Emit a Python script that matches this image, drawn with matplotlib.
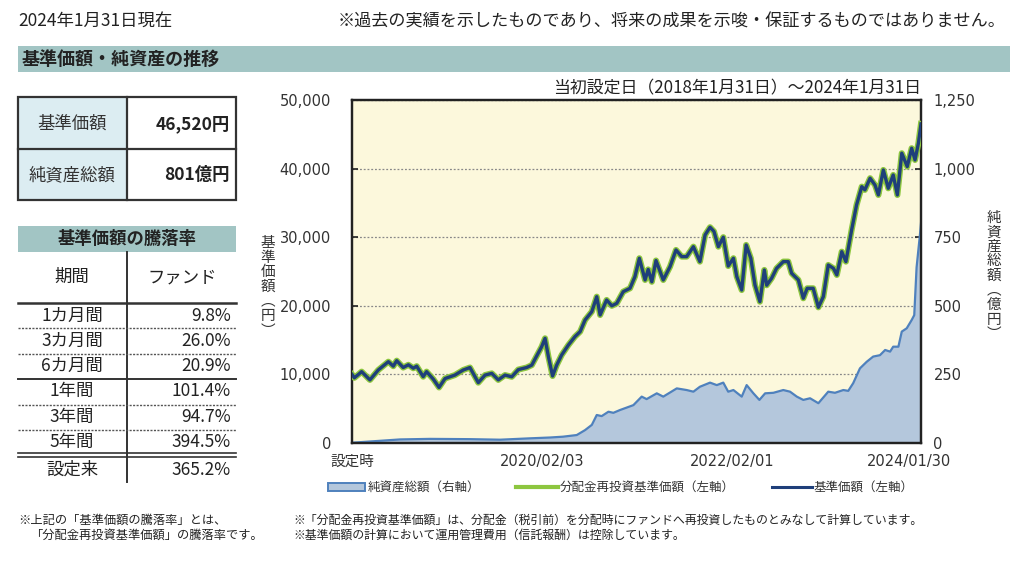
import matplotlib.pyplot as plt
import matplotlib.transforms as mtransforms
from matplotlib.patches import Rectangle
import pandas as pd

plt.rcParams['font.family'] = ['Noto Sans CJK JP', 'DejaVu Sans']

# 基準価額（円）: 画像から読み取った値
nav_dates = [
    '2018-01-31', '2018-02-09', '2018-02-25', '2018-03-09', '2018-04-10', '2018-05-12',
    '2018-06-20', '2018-07-09', '2018-07-22', '2018-08-16', '2018-09-05', '2018-09-24',
    '2018-10-07', '2018-11-01', '2018-11-14', '2018-12-10', '2019-01-01', '2019-01-24',
    '2019-03-03', '2019-04-04', '2019-04-30', '2019-06-01', '2019-06-27', '2019-07-23',
    '2019-08-17', '2019-09-12', '2019-10-08', '2019-11-02', '2019-12-04', '2019-12-24',
    '2020-01-12', '2020-01-31', '2020-02-13', '2020-02-26', '2020-03-13', '2020-03-29',
    '2020-04-17', '2020-05-13', '2020-06-07', '2020-06-27', '2020-07-16', '2020-08-11',
    '2020-08-30', '2020-09-12', '2020-10-07', '2020-10-27', '2020-11-15', '2020-12-10',
    '2021-01-05', '2021-01-24', '2021-02-10', '2021-03-04', '2021-03-16', '2021-03-30',
    '2021-04-15', '2021-05-13', '2021-06-08', '2021-07-01', '2021-07-23', '2021-08-11',
    '2021-09-06', '2021-10-01', '2021-10-21', '2021-11-09', '2021-11-24', '2021-12-11',
    '2021-12-30', '2022-01-18', '2022-02-07', '2022-02-20', '2022-03-11', '2022-03-28',
    '2022-04-15', '2022-05-01', '2022-05-20', '2022-06-06', '2022-06-15', '2022-07-04',
    '2022-07-23', '2022-08-18', '2022-09-06', '2022-09-19', '2022-10-15', '2022-11-03',
    '2022-11-18', '2022-12-11', '2022-12-31', '2023-01-19', '2023-02-07', '2023-02-27',
    '2023-03-12', '2023-03-31', '2023-04-16', '2023-05-08', '2023-05-27', '2023-06-16',
    '2023-06-28', '2023-07-18', '2023-08-06', '2023-08-19', '2023-09-07', '2023-09-26',
    '2023-10-15', '2023-10-31', '2023-11-17', '2023-12-08', '2023-12-25', '2024-01-07',
    '2024-01-20', '2024-01-30',
]
nav_values = [
    10000, 9500, 10000, 10400, 9200, 10640,
    11850, 11200, 12000, 11000, 11400, 10900,
    11200, 9670, 10400, 9300, 8100, 9400,
    9900, 10640, 11000, 8800, 9900, 10150,
    9200, 9900, 9650, 10700, 11000, 11350,
    12700, 14040, 15260, 12580, 9770, 11370,
    12830, 14290, 15500, 16230, 17930, 19150,
    21330, 18660, 20850, 20000, 20360, 22060,
    22550, 24250, 26930, 23770, 25300, 23500,
    26600, 23770, 25700, 28140, 27170, 27170,
    28620, 26440, 30330, 31450, 30850, 28620,
    30000, 25800, 26930, 24250, 22300, 28870,
    26930, 23040, 20600, 25220, 23000, 24010,
    25460, 26440, 26440, 24740, 23770, 21100,
    22550, 22550, 19780, 21330, 25950, 25460,
    24500, 27890, 26440, 31060, 34700, 37370,
    36900, 38600, 37600, 36160, 39800, 37130,
    39070, 36160, 42240, 40290, 42970, 41260,
    43700, 46520,
]

# 純資産総額（億円）
aum_dates = [
    '2018-01-31', '2018-05-19', '2018-08-04', '2018-11-27', '2019-04-30', '2019-08-24',
    '2019-12-17', '2020-03-03', '2020-04-22', '2020-06-14', '2020-07-16', '2020-08-11',
    '2020-08-30', '2020-09-18', '2020-10-14', '2020-11-02', '2020-11-27', '2021-01-18',
    '2021-02-19', '2021-03-10', '2021-04-18', '2021-05-13', '2021-07-04', '2021-08-11',
    '2021-09-06', '2021-10-01', '2021-11-09', '2021-12-05', '2021-12-30', '2022-01-18',
    '2022-02-07', '2022-03-11', '2022-03-30', '2022-04-25', '2022-05-18', '2022-06-09',
    '2022-07-11', '2022-08-18', '2022-09-13', '2022-10-09', '2022-11-03', '2022-11-29',
    '2022-12-31', '2023-02-07', '2023-03-05', '2023-04-06', '2023-04-25', '2023-05-14',
    '2023-06-09', '2023-07-05', '2023-07-30', '2023-08-25', '2023-09-14', '2023-10-03',
    '2023-10-15', '2023-11-04', '2023-11-17', '2023-12-06', '2023-12-25', '2024-01-04',
    '2024-01-13', '2024-01-26', '2024-01-30',
]
aum_values = [
    1, 8, 13, 15, 14, 12,
    17, 20, 23, 29, 47, 66,
    102, 98, 114, 110, 120, 138,
    169, 160, 181, 169, 199, 193,
    187, 205, 220, 211, 220, 187,
    193, 169, 211, 181, 157, 181,
    183, 193, 187, 169, 157, 163,
    145, 187, 183, 193, 190, 218,
    272, 296, 315, 320, 339, 333,
    351, 351, 406, 418, 448, 466,
    640, 760, 801,
]

# 騰落率の表
periods = ['1カ月間', '3カ月間', '6カ月間', '1年間', '3年間', '5年間', '設定来']
returns = [9.8, 26.0, 20.9, 101.4, 94.7, 394.5, 365.2]

xtick_dates = ['2018-01-31', '2020-02-03', '2022-02-01', '2024-01-30']
xtick_labels = ['設定時', '2020/02/03', '2022/02/01', '2024/01/30']

nav_x = pd.to_datetime(nav_dates)
aum_x = pd.to_datetime(aum_dates)

teal = '#a2c5c4'
txt = '#222222'

fig = plt.figure(figsize=(10.24, 5.76), dpi=100)

# 背景用（ピクセル座標）
bg = fig.add_axes([0, 0, 1, 1])
bg.set_xlim(0, 1024)
bg.set_ylim(576, 0)
bg.axis('off')

bg.text(18, 21, '2024年1月31日現在', fontsize=12.5, color=txt, va='center', ha='left')
bg.text(1006, 21, '※過去の実績を示したものであり、将来の成果を示唆・保証するものではありません。',
        fontsize=12.3, color=txt, va='center', ha='right')
bg.add_patch(Rectangle((18, 46), 992, 26, facecolor=teal, edgecolor='none'))
bg.text(22, 59, '基準価額・純資産の推移', fontsize=13, fontweight='bold', color=txt, va='center')

# 基準価額 / 純資産総額 の枠
bg.add_patch(Rectangle((18, 97), 109, 103, facecolor='#dcedf2', edgecolor='none'))
bg.add_patch(Rectangle((18, 97), 218, 103, facecolor='none', edgecolor='#333333', lw=1.6))
bg.plot([127, 127], [97, 200], color='#333333', lw=1.6)
bg.plot([18, 236], [149, 149], color='#333333', lw=1.6)
bg.text(72, 124, '基準価額', fontsize=12.5, color='#333333', ha='center', va='center')
bg.text(72, 175, '純資産総額', fontsize=12.5, color='#333333', ha='center', va='center')
bg.text(230, 124, '46,520円', fontsize=12.5, fontweight='bold', color=txt, ha='right', va='center')
bg.text(230, 175, '801億円', fontsize=12.5, fontweight='bold', color=txt, ha='right', va='center')

# 騰落率の表
bg.add_patch(Rectangle((18, 226), 218, 26, facecolor=teal, edgecolor='none'))
bg.text(127, 239, '基準価額の騰落率', fontsize=12.5, fontweight='bold', color=txt, ha='center', va='center')
bg.plot([127, 127], [252, 482], color='#333333', lw=1.4)
bg.text(72, 277, '期間', fontsize=12.5, color=txt, ha='center', va='center')
bg.text(182, 277, 'ファンド', fontsize=12.5, color=txt, ha='center', va='center')
bg.plot([18, 236], [303, 303], color='#333333', lw=1.8)
row_y = [316, 341, 366, 391, 417, 442, 470]
for p, r, y in zip(periods, returns, row_y):
    bg.text(72, y, p, fontsize=12.5, color=txt, ha='center', va='center')
    bg.text(231, y, f'{r:.1f}%', fontsize=12.5, color=txt, ha='right', va='center')
for y in [328, 354, 405, 430]:
    bg.plot([18, 236], [y, y], color='#555555', lw=1.0, ls=(0, (1.5, 1)))
bg.plot([18, 236], [379, 379], color='#333333', lw=1.4)
bg.plot([18, 236], [453, 453], color='#333333', lw=1.2)
bg.plot([18, 236], [457, 457], color='#333333', lw=1.2)

# チャート（ax: 純資産総額・右軸, ax2: 基準価額・左軸）
ax = fig.add_axes([352 / 1024, 1 - 443 / 576, 569 / 1024, 343 / 576])
ax.set_facecolor('#fcf8dc')
ax.fill_between(aum_x, aum_values, 0, facecolor='#b4c7dc', edgecolor='none', zorder=2)
ax.plot(aum_x, aum_values, color='#4f81bd', lw=1.6, zorder=3)
ax.set_ylim(0, 1250)
ax.grid(axis='y', color='#888888', lw=0.9, ls=(0, (1.5, 1.5)), zorder=1)
ax.set_axisbelow(True)

ax.set_xlim(pd.Timestamp('2018-01-31'), pd.Timestamp('2024-01-30'))
ax.set_xticks(pd.to_datetime(xtick_dates))
ax.set_xticklabels(xtick_labels, family=['DejaVu Sans', 'Noto Sans CJK JP'])

ax2 = ax.twinx()
ax2.plot(nav_x, nav_values, color='#8dc63f', lw=4.4, solid_joinstyle='round', zorder=3)
ax2.plot(nav_x, nav_values, color='#1f3f7a', lw=2.4, solid_joinstyle='round', zorder=4)
ax2.set_ylim(0, 50000)
ax2.set_xlim(pd.Timestamp('2018-01-31'), pd.Timestamp('2024-01-30'))

# 軸の左右を入れ替える
ax.yaxis.tick_right()
ax.set_yticks(range(0, 1251, 250))
ax.set_yticklabels(['0', '250', '500', '750', '1,000', '1,250'], family='DejaVu Sans')
ax2.yaxis.tick_left()
ax2.set_yticks(range(0, 50001, 10000))
ax2.set_yticklabels([f'{v:,}' for v in range(0, 50001, 10000)], family='DejaVu Sans')

for a in (ax, ax2):
    for s in a.spines.values():
        s.set_color('#222222')
        s.set_linewidth(1.6)
    a.tick_params(direction='in', length=4, width=1.2, colors='#222222',
                  labelcolor='#333333', labelsize=10.5)
ax2.tick_params(axis='y', pad=15)
ax.tick_params(axis='y', pad=9)
ax.tick_params(axis='x', pad=8)

# 最後の日付ラベルを少し左へ
last = ax.get_xticklabels()[-1]
last.set_transform(last.get_transform() + mtransforms.ScaledTranslation(-12 / 100, 0, fig.dpi_scale_trans))

ax.set_title('当初設定日（2018年1月31日）～2024年1月31日', fontsize=12.2,
             color=txt, loc='right', pad=5)

fig.text(268 / 1024, 1 - 287 / 576, '\n'.join('基準価額︵円︶'), fontsize=10.5,
         color='#333333', ha='center', va='center', linespacing=1.05)
fig.text(994 / 1024, 1 - 276 / 576, '\n'.join('純資産総額︵億円︶'), fontsize=10.5,
         color='#333333', ha='center', va='center', linespacing=1.05)

# 凡例
ly = 487
bg.add_patch(Rectangle((328, ly - 4), 37, 8, facecolor='#b4c7dc', edgecolor='#4f81bd', lw=1.4))
bg.text(368, ly, '純資産総額（右軸）', fontsize=9, color='#333333', va='center')
bg.plot([516, 558], [ly, ly], color='#8dc63f', lw=3)
bg.text(560, ly, '分配金再投資基準価額（左軸）', fontsize=9, color='#333333', va='center')
bg.plot([772, 812], [ly, ly], color='#1f3f7a', lw=2.2)
bg.text(814, ly, '基準価額（左軸）', fontsize=9, color='#333333', va='center')

# 注記
bg.text(18, 520, '※上記の「基準価額の騰落率」とは、', fontsize=8.8, color=txt, va='center')
bg.text(30, 535, '「分配金再投資基準価額」の騰落率です。', fontsize=8.8, color=txt, va='center')
bg.text(293, 520, '※「分配金再投資基準価額」は、分配金（税引前）を分配時にファンドへ再投資したものとみなして計算しています。',
        fontsize=8.6, color=txt, va='center')
bg.text(293, 535, '※基準価額の計算において運用管理費用（信託報酬）は控除しています。',
        fontsize=8.6, color=txt, va='center')

fig.savefig('out.png', dpi=100)
